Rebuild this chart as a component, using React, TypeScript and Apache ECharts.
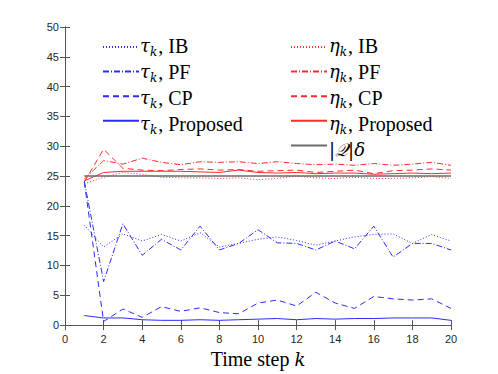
import React, { useEffect, useRef } from "react";
import * as echarts from "echarts";

const steps = [1, 2, 3, 4, 5, 6, 7, 8, 9, 10, 11, 12, 13, 14, 15, 16, 17, 18, 19, 20];
const tauIB = [16.8, 13.1, 15.3, 14.1, 15.2, 14.1, 15.5, 13.1, 13.7, 14.4, 14.8, 14.2, 13.4, 14.1, 14.8, 15.2, 15.3, 13.7, 15.2, 14.1];
const tauPF = [24.1, 7.3, 17.0, 11.7, 14.4, 12.6, 16.6, 12.6, 13.7, 16.0, 13.8, 13.7, 12.6, 14.1, 12.8, 16.6, 11.4, 13.7, 13.7, 12.6];
const tauCP = [24.0, 0.6, 2.7, 1.3, 3.1, 2.3, 2.9, 2.1, 1.9, 3.7, 4.2, 3.2, 5.5, 3.7, 2.8, 4.8, 4.4, 4.2, 4.4, 2.8];
const tauProp = [1.6, 1.2, 1.2, 0.9, 0.8, 0.8, 0.9, 0.8, 0.9, 1.0, 1.1, 0.9, 1.1, 1.0, 1.1, 1.1, 1.2, 1.2, 1.2, 0.8];
const etaIB = [23.7, 24.8, 25.6, 25.3, 24.8, 24.7, 24.7, 24.6, 24.7, 24.4, 24.6, 25.0, 24.7, 24.6, 24.8, 24.6, 24.6, 24.7, 24.9, 24.6];
const etaPF = [24.5, 27.6, 27.0, 28.0, 27.3, 26.9, 27.4, 27.3, 27.4, 27.1, 27.4, 27.1, 26.9, 27.0, 26.8, 27.1, 26.8, 27.0, 27.3, 26.8];
const etaCP = [24.0, 29.5, 26.3, 26.0, 25.9, 26.1, 26.2, 26.0, 26.1, 25.8, 25.9, 26.0, 25.6, 25.8, 26.0, 25.4, 25.9, 26.0, 26.2, 26.0];
const etaProp = [24.2, 25.6, 25.8, 25.8, 25.8, 25.8, 25.7, 25.6, 26.0, 25.6, 25.5, 25.6, 25.4, 25.5, 25.5, 25.3, 25.4, 25.5, 25.4, 25.5];
const qDelta = [25, 25, 25, 25, 25, 25, 25, 25, 25, 25, 25, 25, 25, 25, 25, 25, 25, 25, 25, 25];
const xTicks = [0, 20, 2];
const yTicks = [0, 50, 5];

const BLUE = "#2b2bff";
const RED = "#ff2a2a";
const GREY = "#6a6a6a";
const SERIF = "DejaVu Serif";
const SERIF2 = "Liberation Serif";
const SANS = "Liberation Sans";

const DOT = [1, 2];
const DASHDOT = [6, 2, 1, 2];
const DASH = [6, 4];

type Def = { key: string; greek: string; label: string; data: number[]; color: string; dash: any; width: number };
const defs: Def[] = [
  { key: "tIB", greek: "τ", label: "IB", data: tauIB, color: BLUE, dash: DOT, width: 1 },
  { key: "tPF", greek: "τ", label: "PF", data: tauPF, color: BLUE, dash: DASHDOT, width: 1 },
  { key: "tCP", greek: "τ", label: "CP", data: tauCP, color: BLUE, dash: DASH, width: 1 },
  { key: "tPr", greek: "τ", label: "Proposed", data: tauProp, color: BLUE, dash: "solid", width: 1 },
  { key: "eIB", greek: "η", label: "IB", data: etaIB, color: RED, dash: DOT, width: 1 },
  { key: "ePF", greek: "η", label: "PF", data: etaPF, color: RED, dash: DASHDOT, width: 1 },
  { key: "eCP", greek: "η", label: "CP", data: etaCP, color: RED, dash: DASH, width: 1 },
  { key: "ePr", greek: "η", label: "Proposed", data: etaProp, color: RED, dash: "solid", width: 1 },
  { key: "QD", greek: "", label: "", data: qDelta, color: GREY, dash: "solid", width: 1.6 },
];

const labelText = (d: Def) => {
  if (d.key === "QD") return "{q||𝒬|δ}";
  return `{g|${d.greek}}{s|k}{n|, ${d.label}}`;
};

const rich = {
  g: { fontFamily: SERIF, fontStyle: "italic", fontSize: 18, lineHeight: 22, fill: "#000", verticalAlign: "top" },
  n: { fontFamily: SERIF2, fontSize: 20, lineHeight: 22, fill: "#000", verticalAlign: "top" },
  q: { fontFamily: SERIF, fontStyle: "italic", fontSize: 18, lineHeight: 22, fill: "#000", verticalAlign: "top" },
  s: { fontFamily: SERIF, fontStyle: "italic", fontSize: 12, lineHeight: 11, fill: "#000", verticalAlign: "bottom", padding: [0, 1, 0, 0] },
};

const ROW0 = 47;
const ROWSTEP = 26;

export default function App() {
  const ref = useRef<HTMLDivElement>(null);
  useEffect(() => {
    const chart = echarts.init(ref.current!, undefined, { renderer: "svg" });
    const axisCommon = {
      type: "value" as const,
      axisLine: { show: true, lineStyle: { color: "#555", width: 1 } },
      axisTick: { show: true, inside: true, length: 5, lineStyle: { color: "#555", width: 1 } },
      splitLine: { show: false },
    };
    const legendCommon = {
      orient: "vertical" as const,
      itemWidth: 36,
      itemHeight: 14,
      itemGap: ROWSTEP - 14,
      padding: 0,
      formatter: () => "",
      itemStyle: { opacity: 0, borderWidth: 0 },
      textStyle: { fontSize: 12 },
    };
    const labels = defs.map((d, i) => {
      const col = i < 4 ? 0 : 1;
      const row = i < 4 ? i : i - 4;
      return {
        type: "text",
        x: col === 0 ? 140 : 329,
        y: ROW0 + row * ROWSTEP,
        style: {
          text: labelText(d),
          rich,
          fontFamily: SERIF2,
          fontSize: 20,
          fill: "#000",
          verticalAlign: "middle",
          align: "left",
        },
      };
    });
    chart.setOption({
      animation: false,
      backgroundColor: "#fff",
      grid: { left: 65, right: 47, top: 27, bottom: 47, show: false },
      xAxis: [
        {
          ...axisCommon,
          min: xTicks[0],
          max: xTicks[1],
          interval: xTicks[2],
          position: "bottom",
          axisLabel: { show: true, margin: 8, color: "#262626", fontSize: 11, fontFamily: SANS },
          name: "Time step {i|k}",
          nameLocation: "middle",
          nameGap: 20,
          nameTextStyle: {
            fontFamily: SERIF2,
            fontSize: 20,
            color: "#000",
            rich: { i: { fontFamily: SERIF, fontStyle: "italic", fontSize: 18, color: "#000" } },
          },
        },
        {
          ...axisCommon,
          min: xTicks[0],
          max: xTicks[1],
          interval: xTicks[2],
          position: "top",
          axisLabel: { show: false },
        },
      ],
      yAxis: [
        {
          ...axisCommon,
          min: yTicks[0],
          max: yTicks[1],
          interval: yTicks[2],
          position: "left",
          axisLabel: { show: true, margin: 6, color: "#262626", fontSize: 11, fontFamily: SANS },
        },
        {
          ...axisCommon,
          min: yTicks[0],
          max: yTicks[1],
          interval: yTicks[2],
          position: "right",
          axisLabel: { show: false },
        },
      ],
      legend: [
        { ...legendCommon, left: 102, top: ROW0 - 7, data: defs.slice(0, 4).map((d) => d.key) },
        { ...legendCommon, left: 290, top: ROW0 - 7, data: defs.slice(4).map((d) => d.key) },
      ],
      graphic: labels,
      series: defs.map((d) => ({
        name: d.key,
        type: "line",
        xAxisIndex: 0,
        yAxisIndex: 0,
        symbol: "none",
        showSymbol: false,
        data: steps.map((k, i) => [k, d.data[i]]),
        lineStyle: { color: d.color, width: d.width, type: d.dash },
        itemStyle: { color: d.color },
        color: d.color,
      })),
    });
    return () => chart.dispose();
  }, []);
  return <div ref={ref} style={{ position: "fixed", left: 0, top: 0, width: 498, height: 374 }} />;
}
